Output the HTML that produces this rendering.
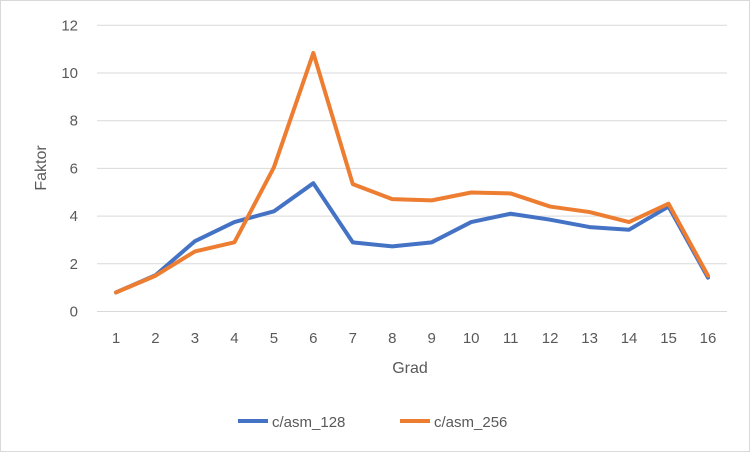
<!DOCTYPE html>
<html><head><meta charset="utf-8"><style>
html,body{margin:0;padding:0;background:#fff;}
svg{display:block;font-family:"Liberation Sans",sans-serif;}
</style></head><body>
<svg width="750" height="452">
<rect x="0.5" y="0.5" width="749" height="451" fill="#fff" stroke="#d9d9d9"/>
<g id="grid"></g><g id="ylab"></g><g id="xlab"></g><g id="lines"></g>
<text x="410" y="373" font-size="16" fill="#595959" text-anchor="middle">Grad</text>
<text transform="translate(46,168) rotate(-90)" font-size="16" fill="#595959" text-anchor="middle">Faktor</text>
<g>
<g><line x1="238" y1="421" x2="268" y2="421" stroke="#4472c4" stroke-width="4"/><text x="272" y="427" font-size="15" fill="#595959">c/asm_128</text></g>
<g><line x1="400" y1="421" x2="430" y2="421" stroke="#ed7d31" stroke-width="4"/><text x="434" y="427" font-size="15" fill="#595959">c/asm_256</text></g>
</g>
</svg>
<script>
const categories=["1","2","3","4","5","6","7","8","9","10","11","12","13","14","15","16"];
const asm128=[0.8,1.52,2.95,3.75,4.2,5.38,2.9,2.73,2.9,3.75,4.1,3.85,3.54,3.43,4.4,1.42];
const asm256=[0.8,1.5,2.52,2.9,6.04,10.84,5.34,4.71,4.66,4.99,4.95,4.4,4.17,3.75,4.52,1.5];
const yTicks=[0,2,4,6,8,10,12];
const NS="http://www.w3.org/2000/svg";
const x=i=>116+i*(708-116)/15;
const y=v=>311.5-v*(311.5-25.3)/12;
const g=document.getElementById('grid'),yl=document.getElementById('ylab'),xl=document.getElementById('xlab'),ln=document.getElementById('lines');
yTicks.forEach(t=>{
 const l=document.createElementNS(NS,'line');
 l.setAttribute('x1',97);l.setAttribute('x2',727);l.setAttribute('y1',y(t));l.setAttribute('y2',y(t));
 l.setAttribute('stroke','#d9d9d9');l.setAttribute('stroke-width','1');
 
 
 g.appendChild(l);
 const tx=document.createElementNS(NS,'text');
 tx.setAttribute('x',78);tx.setAttribute('y',y(t)+5);tx.setAttribute('text-anchor','end');
 tx.setAttribute('font-size','15');tx.setAttribute('fill','#595959');tx.textContent=t;
 
 
 yl.appendChild(tx);
});
categories.forEach((c,i)=>{
 const tx=document.createElementNS(NS,'text');
 tx.setAttribute('x',x(i));tx.setAttribute('y',343);tx.setAttribute('text-anchor','middle');
 tx.setAttribute('font-size','15');tx.setAttribute('fill','#595959');tx.textContent=c;
 
 
 xl.appendChild(tx);
});
function series(d,col,name){
 const p=document.createElementNS(NS,'polyline');
 p.setAttribute('points',d.map((v,i)=>x(i)+','+y(v)).join(' '));
 p.setAttribute('fill','none');p.setAttribute('stroke',col);p.setAttribute('stroke-width','4');
 p.setAttribute('stroke-linejoin','round');p.setAttribute('stroke-linecap','round');
 
 
 ln.appendChild(p);
}
series(asm128,'#4472c4','series-c-asm-128');
series(asm256,'#ed7d31','series-c-asm-256');
</script>
</body></html>
